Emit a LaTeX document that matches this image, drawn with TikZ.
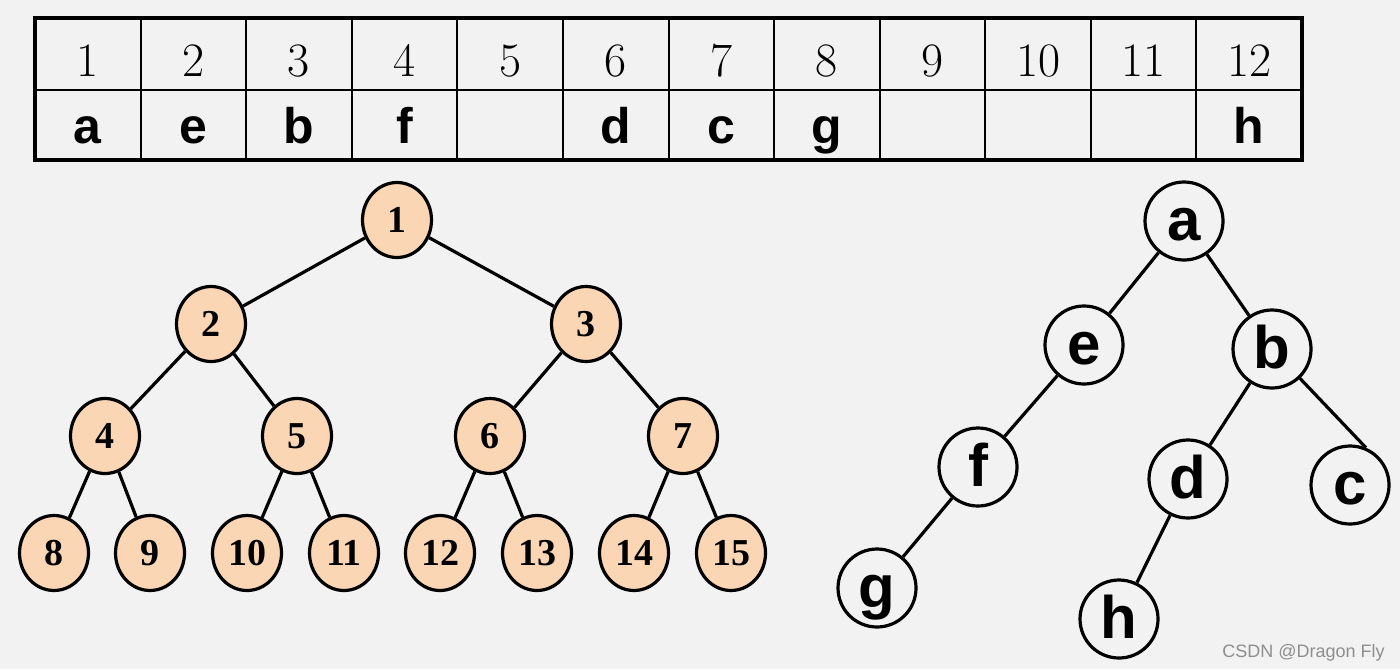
\documentclass[tikz,border=0pt]{standalone}
\usepackage{fontspec}
\newfontfamily\serifbf{Liberation Serif}
\newfontfamily\sansf{Liberation Sans}
\usetikzlibrary{shapes.geometric}
\definecolor{bg}{HTML}{F2F2F2}
\definecolor{peach}{RGB}{250,214,180}
\definecolor{wmgrey}{HTML}{8E8E8E}
\begin{document}
\begin{tikzpicture}[x=0.5pt,y=-0.5pt,
  numnode/.style={ellipse,draw=black,line width=1.6pt,fill=peach,minimum width=34.5pt,minimum height=37.5pt,inner sep=0pt,font=\serifbf\bfseries\fontsize{19}{19}\selectfont},
  letnode/.style={circle,draw=black,line width=1.6pt,fill=bg,minimum size=39pt,inner sep=0pt,text height=19pt,text depth=0pt,font=\sansf\bfseries\fontsize{30}{30}\selectfont},
  link/.style={line width=1.6pt},
  idxtext/.style={anchor=base,font=\fontsize{24}{24}\selectfont},
  valtext/.style={anchor=base,font=\sansf\bfseries\fontsize{25}{25}\selectfont}]
\fill[bg] (0,0) rectangle (1400,669);
\useasboundingbox (0,0) rectangle (1400,669);
% table
\foreach \i in {1,...,11} {\draw[line width=1pt] ({35+105.583*\i},18) -- ({35+105.583*\i},160);}
\draw[line width=1pt] (35,90) -- (1302,90);
\draw[line width=2pt] (35,18) rectangle (1302,160);
\foreach \i/\v in {1/a,2/e,3/b,4/f,5/{},6/d,7/c,8/g,9/{},10/{},11/{},12/h} {
  \node[idxtext] (i\i) at ({35+105.583*(\i-0.5)},76) {\i};
  \node[valtext] (v\i) at ({35+105.583*(\i-0.5)},143) {\v};
}
% numbered tree
\node[numnode] (n1) at (397,220) {1};
\node[numnode] (n2) at (211,324) {2};
\node[numnode] (n3) at (586,324) {3};
\node[numnode] (n4) at (105,436) {4};
\node[numnode] (n5) at (297,436) {5};
\node[numnode] (n6) at (490,436) {6};
\node[numnode] (n7) at (683,436) {7};
\node[numnode] (n8) at (54,553) {8};
\node[numnode] (n9) at (150,553) {9};
\node[numnode] (n10) at (247,553) {10};
\node[numnode] (n11) at (344,553) {11};
\node[numnode] (n12) at (440,553) {12};
\node[numnode] (n13) at (537,553) {13};
\node[numnode] (n14) at (634,553) {14};
\node[numnode] (n15) at (731,553) {15};
\foreach \a/\b in {n1/n2,n1/n3,n2/n4,n2/n5,n3/n6,n3/n7,n4/n8,n4/n9,n5/n10,n5/n11,n6/n12,n6/n13,n7/n14,n7/n15}
  \draw[link] (\a) -- (\b);
% letter tree
\node[letnode] (la) at (1184,221) {a};
\node[letnode] (le) at (1084,345) {e};
\node[letnode] (lb) at (1272,349) {b};
\node[letnode] (lf) at (978,467) {f};
\node[letnode] (ld) at (1188,479) {d};
\node[letnode] (lc) at (1350,485) {c};
\node[letnode] (lg) at (877,588) {g};
\node[letnode] (lh) at (1119,619) {h};
\foreach \a/\b in {la/le,la/lb,le/lf,lb/ld,lf/lg,ld/lh}
  \draw[link] (\a) -- (\b);
\draw[link] (lb) -- (lc.67);
% watermark
\node[anchor=base east,inner sep=0pt,text=wmgrey,font=\sansf\fontsize{9}{9}\selectfont] (wm) at (1385,657) {CSDN @Dragon Fly};
\end{tikzpicture}
\end{document}
